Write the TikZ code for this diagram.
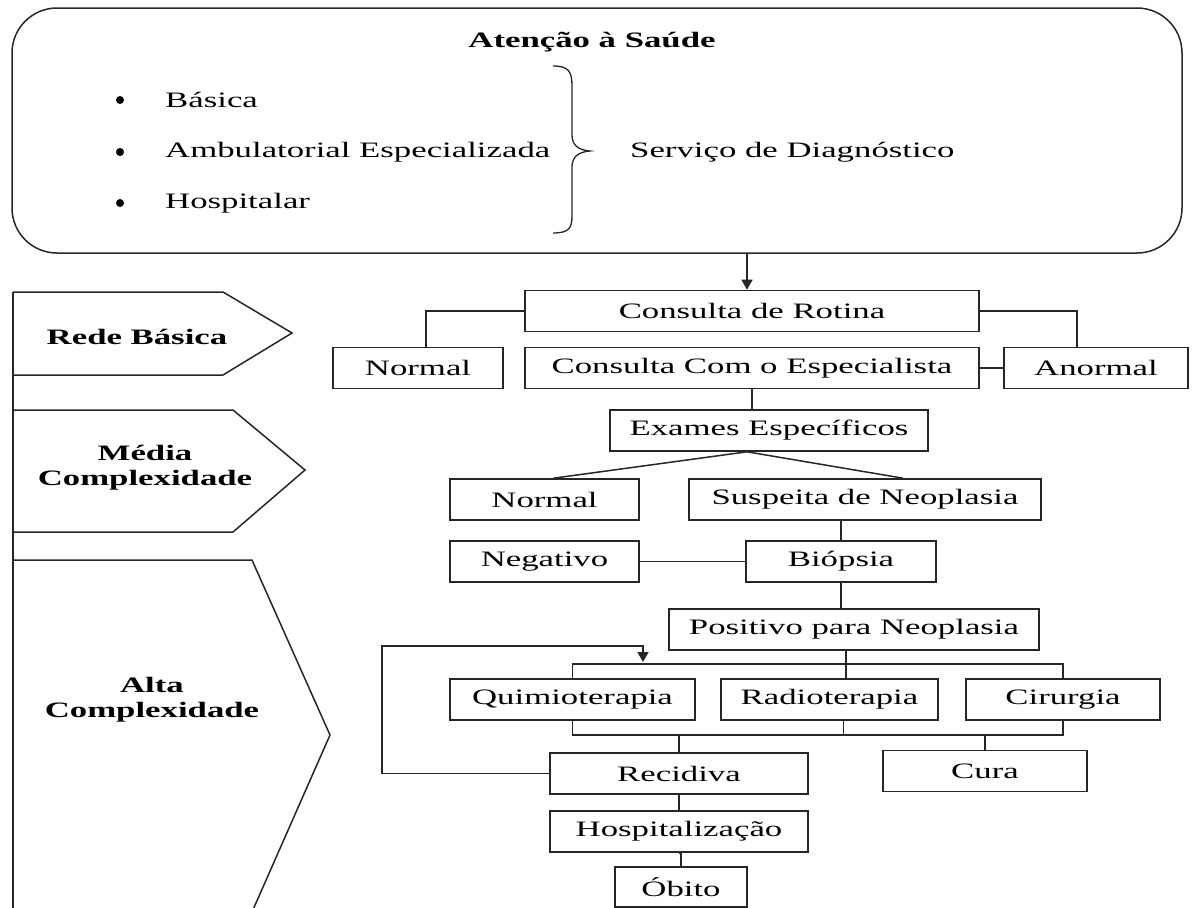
\documentclass[tikz,border=0pt]{standalone}
\usepackage{fontspec}
\setmainfont{Liberation Serif}[FakeStretch=1.58]
\usetikzlibrary{arrows.meta,calc}
\definecolor{linec}{HTML}{262626}
\begin{document}
\begin{tikzpicture}[x=1pt,y=-1pt,
  every node/.style={font=\fontsize{22}{25}\selectfont, text=black},
  box/.style={draw=linec, line width=1.6pt, inner sep=0pt, minimum height=41pt},
  conn/.style={draw=linec, line width=1.5pt},
  arr/.style={conn, -{Triangle[width=11pt,length=10pt]}},
  lvl/.style={draw=linec, line width=1.5pt, line join=miter},
  lvltext/.style={font=\fontsize{22}{25}\selectfont\bfseries, align=center},
  item/.style={anchor=west, inner sep=0pt},
  dot/.style={circle, fill=black, inner sep=0pt, minimum size=8pt},
]
\useasboundingbox (0,0) rectangle (1192,908);

% --- care levels panel -------------------------------------------------
\node[draw=linec, line width=1.5pt, rounded corners=45pt,
      minimum width=1170pt, minimum height=245pt] (top) at (597,130.5) {};
\node[font=\fontsize{22}{25}\selectfont\bfseries] (title) at (592,42) {Atenção à Saúde};
\node[dot] (bu1) at (120,100) {};
\node[dot] (bu2) at (120,152) {};
\node[dot] (bu3) at (120,203) {};
\node[item] (basica) at (165,100) {Básica};
\node[item] (ambul)  at (165,152) {Ambulatorial Especializada};
\node[item] (hosp1)  at (165,203) {Hospitalar};
\draw[conn, line width=1.3pt]
  (553,66) .. controls (569,66) and (572,72) .. (572,86) -- (572,135)
  .. controls (572,145) and (578,150) .. (590,151)
  .. controls (578,152) and (572,157) .. (572,167) -- (572,216)
  .. controls (572,228) and (569,233) .. (553,233);
\node[item] (servico) at (630,152) {Serviço de Diagnóstico};

% --- complexity levels ---------------------------------------------------
\draw[lvl] (13,292) -- (223,292) -- (292,333) -- (223,375) -- (13,375);
\draw[lvl] (13,410) -- (233,410) -- (305,470) -- (233,532) -- (13,532);
\draw[lvl] (13,560) -- (252,560) -- (330,735) -- (252,912) -- (13,912);
\draw[lvl] (13,292) -- (13,912);
\node[lvltext] (rede)  at (137,337) {Rede Básica};
\node[lvltext] (media) at (145,468) {Média\\Complexidade};
\node[lvltext] (alta)  at (152,700) {Alta\\Complexidade};

% --- flow boxes ----------------------------------------------------------
\node[box, minimum width=454pt] (rot)    at (752,311)   {Consulta de Rotina};
\node[box, minimum width=170pt] (norm1)  at (418,368)   {Normal};
\node[box, minimum width=454pt] (esp)    at (752,368)   {Consulta Com o Especialista};
\node[box, minimum width=184pt] (anorm)  at (1096,368)  {Anormal};
\node[box, minimum width=318pt] (exam)   at (769,430.5) {Exames Específicos};
\node[box, minimum width=189pt] (norm2)  at (544.5,499.5) {Normal};
\node[box, minimum width=352pt] (susp)   at (865,499.5) {Suspeita de Neoplasia};
\node[box, minimum width=189pt] (neg)    at (544.5,561.5) {Negativo};
\node[box, minimum width=190pt] (biop)   at (841,561.5) {Biópsia};
\node[box, minimum width=370pt] (pos)    at (854,629.5) {Positivo para Neoplasia};
\node[box, minimum width=245pt] (quimio) at (572.5,699.5) {Quimioterapia};
\node[box, minimum width=217pt] (radio)  at (829.5,699.5) {Radioterapia};
\node[box, minimum width=194pt] (cir)    at (1063,699.5) {Cirurgia};
\node[box, minimum width=204pt] (cura)   at (985,771)   {Cura};
\node[box, minimum width=258pt] (recid)  at (679,773.5) {Recidiva};
\node[box, minimum width=258pt] (hosp)   at (679,831.5) {Hospitalização};
\node[box, minimum width=132pt, minimum height=40pt] (obito) at (681,887) {Óbito};

% --- connectors ----------------------------------------------------------
\coordinate (busA) at (0,664);
\coordinate (busB) at (0,735);
\coordinate (loop) at (382,646);
\coordinate (tip)  at (643,662);

\draw[arr] ([xshift=-5pt]rot.north |- top.south) -- ([xshift=-5pt]rot.north);
\draw[conn] (rot.west) -| ([xshift=8pt]norm1.north);
\draw[conn] (rot.east) -| ([xshift=-19pt]anorm.north);
\draw[conn] (esp.east) -- (anorm.west);
\draw[conn] (esp.south) -- (esp.south |- exam.north);
\draw[conn] ([xshift=-22pt]exam.south) -- ([xshift=9pt]norm2.north);
\draw[conn] ([xshift=-22pt]exam.south) -- ([xshift=38pt]susp.north);
\draw[conn] (biop.north |- susp.south) -- (biop.north);
\draw[conn] (neg.east) -- (biop.west);
\draw[conn] (biop.south) -- (biop.south |- pos.north);
\draw[conn] ([xshift=-8pt]pos.south) -- ([xshift=-8pt]pos.south |- radio.north);
\draw[conn] (quimio.north) -- (quimio.north |- busA) -- (cir.north |- busA) -- (cir.north);
\draw[conn] (quimio.south) -- (quimio.south |- busB) -- (cir.south |- busB) -- (cir.south);
\draw[conn] ([xshift=14pt]radio.south) -- ([xshift=14pt]radio.south |- busB);
\draw[conn] (recid.north |- busB) -- (recid.north);
\draw[conn] (cura.north |- busB) -- (cura.north);
\draw[arr] (recid.west) -| (loop) -| (tip);
\draw[conn] (recid.south) -- (hosp.north);
\draw[conn] (hosp.south) -- (hosp.south -| obito.north) -- (obito.north);
\end{tikzpicture}
\end{document}
